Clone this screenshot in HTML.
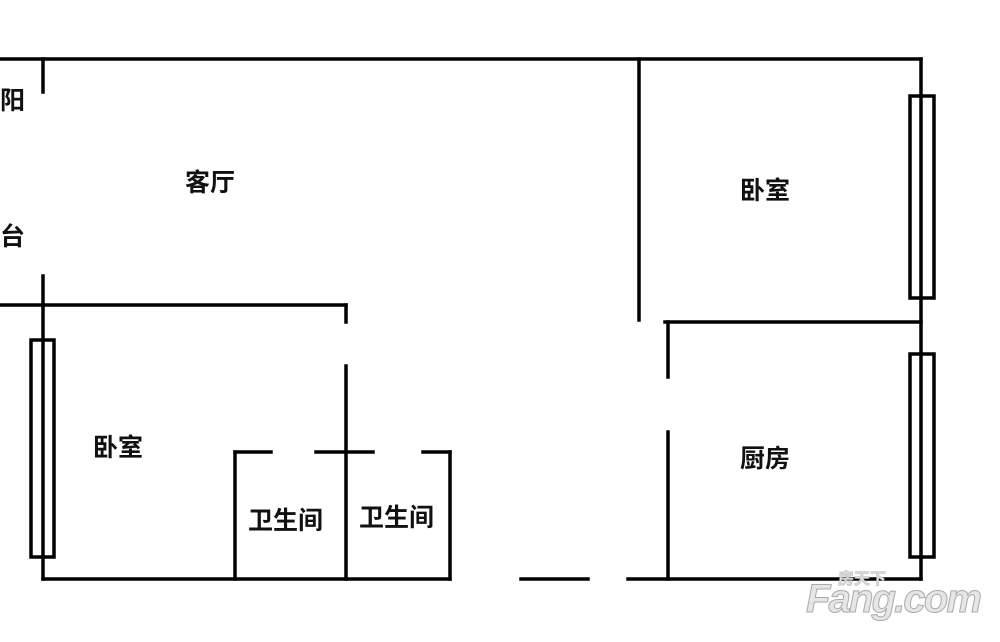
<!DOCTYPE html>
<html><head><meta charset="utf-8"><style>
html,body{margin:0;padding:0;background:#fff;}
svg text{font-family:"Liberation Sans","Noto Sans CJK SC",sans-serif;font-weight:bold;fill:#111;}
</style></head><body>
<svg width="1000" height="637" viewBox="0 0 1000 637" xmlns="http://www.w3.org/2000/svg">
<g stroke="#000" stroke-width="3.5" fill="none" stroke-linecap="square">
<line x1="0" y1="59" x2="921" y2="59"/>
<line x1="43" y1="59" x2="43" y2="92"/>
<line x1="43" y1="276" x2="43" y2="579"/>
<line x1="0" y1="305" x2="346" y2="305"/>
<line x1="346" y1="305" x2="346" y2="322"/>
<line x1="346" y1="366" x2="346" y2="579"/>
<line x1="43" y1="579" x2="450" y2="579"/>
<line x1="521" y1="579" x2="588" y2="579"/>
<line x1="628" y1="579" x2="921" y2="579"/>
<line x1="639" y1="59" x2="639" y2="320"/>
<line x1="665" y1="322" x2="921" y2="322"/>
<line x1="668" y1="322" x2="668" y2="377"/>
<line x1="668" y1="432" x2="668" y2="579"/>
<line x1="921" y1="59" x2="921" y2="579"/>
<line x1="235" y1="452" x2="235" y2="579"/>
<line x1="235" y1="452" x2="271" y2="452"/>
<line x1="316" y1="452" x2="373" y2="452"/>
<line x1="423" y1="452" x2="450" y2="452"/>
<line x1="450" y1="452" x2="450" y2="579"/>
<rect x="910" y="96" width="24" height="202"/>
<rect x="910" y="354" width="24" height="203"/>
<rect x="31" y="340" width="23" height="217"/>
</g>
<g font-size="25">
<text x="185" y="191">客厅</text>
<text x="740" y="199">卧室</text>
<text x="93" y="456">卧室</text>
<text x="740" y="467">厨房</text>
<text x="248" y="529">卫生间</text>
<text x="359" y="526">卫生间</text>
<text x="0" y="109">阳</text>
<text x="0" y="245">台</text>
</g>
<text x="806" y="612" font-size="40" textLength="176" style="fill:#e6e6e6;font-style:italic;stroke:#aaa;stroke-width:1">Fang.com</text>
<text x="838" y="584" font-size="16" style="fill:#ddd;stroke:#bbb;stroke-width:0.6">房天下</text>
</svg>
</body></html>
